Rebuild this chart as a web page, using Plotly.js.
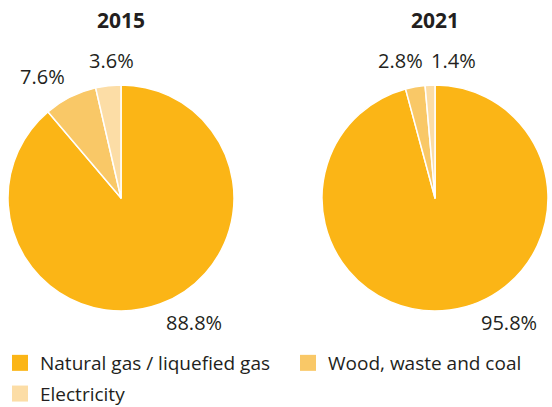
<!DOCTYPE html>
<html><head><meta charset="utf-8">
<script src="https://cdn.plot.ly/plotly-3.0.1.min.js"></script>
<style>html,body{margin:0;padding:0;background:#fff;}#chart{width:552px;height:407px;}</style>
</head><body><div id="chart"></div>
<script>
const categories = ["Natural gas / liquefied gas", "Wood, waste and coal", "Electricity"];
const years = ["2015", "2021"];
const values2015 = [88.8, 7.6, 3.6];
const values2021 = [95.8, 2.8, 1.4];
const colors = ["#FBB516", "#F9C867", "#FCDDA6"];

const FONT = "Open Sans, sans-serif";
const TXT = "#231F20";

function pie(vals, dom) {
  return {
    type: "pie", labels: categories, values: vals, sort: false,
    direction: "clockwise", rotation: 0, textinfo: "none", hoverinfo: "none",
    marker: {colors: colors, line: {color: "#ffffff", width: 1.5}},
    domain: dom, showlegend: false
  };
}
const data = [
  pie(values2015, {x: [8/552, 234/552], y: [1-311/407, 1-85/407]}),
  pie(values2021, {x: [322/552, 548/552], y: [1-311/407, 1-85/407]})
];
// legend entries (one per category); column 1: categories 0 and 2, column 2: category 1
const legendOf = ["legend", "legend2", "legend"];
categories.forEach((c, i) => {
  data.push({type: "scatter", x: [null], y: [null], mode: "markers", name: c,
    marker: {symbol: "square", size: 16, color: colors[i]},
    legend: legendOf[i], legendgroup: "g" + i, showlegend: true, hoverinfo: "none"});
});

function fmt(v) { return v.toFixed(1) + "%"; }
const px = (x) => x/552, py = (y) => 1 - y/407;
const ann = [];
function a(text, x, y, bold, size) {
  ann.push({text: bold ? "<b>" + text + "</b>" : text, x: px(x), y: py(y), xref: "paper", yref: "paper",
    showarrow: false, xanchor: "center", yanchor: "middle",
    font: {family: FONT, size: size, color: TXT}});
}
a(years[0], 121, 20, true, 21);
a(years[1], 435, 20, true, 21);
a(fmt(values2015[1]), 42, 76, false, 20);
a(fmt(values2015[2]), 111, 61, false, 20);
a(fmt(values2015[0]), 194, 322, false, 20);
a(fmt(values2021[1]), 400, 61, false, 20);
a(fmt(values2021[2]), 453, 61, false, 20);
a(fmt(values2021[0]), 509, 322, false, 20);

const legFont = {family: FONT, size: 19, color: TXT};
const layout = {
  width: 552, height: 407, margin: {l: 0, r: 0, t: 0, b: 0, autoexpand: false},
  paper_bgcolor: "#fff", plot_bgcolor: "rgba(0,0,0,0)",
  font: {family: FONT, color: TXT},
  xaxis: {visible: false, fixedrange: true},
  yaxis: {visible: false, fixedrange: true},
  annotations: ann,
  legend: {orientation: "v", x: 0, y: py(344), xanchor: "left", yanchor: "top",
    traceorder: "grouped", tracegroupgap: 3, font: legFont, itemclick: false},
  legend2: {orientation: "v", x: px(288), y: py(344), xanchor: "left", yanchor: "top",
    font: legFont, itemclick: false}
};
Plotly.newPlot("chart", data, layout, {staticPlot: true});
</script></body></html>
